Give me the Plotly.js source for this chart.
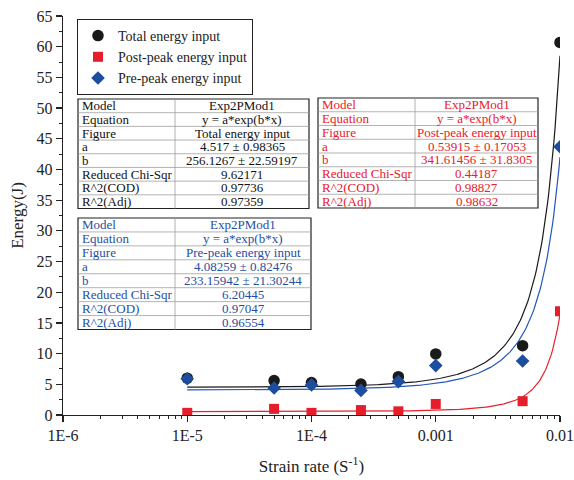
<!DOCTYPE html>
<html>
<head>
<meta charset="utf-8">
<script src="https://cdn.plot.ly/plotly-3.0.1.min.js"></script>
<style>html,body{margin:0;padding:0;background:#fff;}#chart{width:574px;height:480px;}</style>
</head>
<body>
<div id="chart"></div>
<script>
// ---- data ----
var strainRate = [1e-5, 5e-5, 1e-4, 2.5e-4, 5e-4, 1e-3, 5e-3, 1e-2];
var totalEnergy = [6.0, 5.6, 5.3, 5.05, 6.25, 9.95, 11.3, 60.7];
var postPeakEnergy = [0.35, 1.0, 0.35, 0.8, 0.6, 1.8, 2.25, 16.9];
var prePeakEnergy = [5.9, 4.4, 4.9, 4.0, 5.45, 8.05, 8.8, 43.7];

var seriesNames = ["Total energy input", "Post-peak energy input", "Pre-peak energy input"];

// fit parameters (from the tables)
var fitA = [4.517, 0.53915, 4.08259];
var fitB = [256.1267, 341.61456, 233.15942];

var xTickVals = [1e-6, 1e-5, 1e-4, 1e-3, 1e-2];
var xTickText = ["1E-6", "1E-5", "1E-4", "0.001", "0.01"];

var tableLabels = ["Model", "Equation", "Figure", "a", "b", "Reduced Chi-Sqr", "R^2(COD)", "R^2(Adj)"];
var tableTotal = ["Exp2PMod1", "y = a*exp(b*x)", "Total energy input", "4.517 \u00b1 0.98365", "256.1267 \u00b1 22.59197", "9.62171", "0.97736", "0.97359"];
var tablePost = ["Exp2PMod1", "y = a*exp(b*x)", "Post-peak energy input", "0.53915 \u00b1 0.17053", "341.61456 \u00b1 31.8305", "0.44187", "0.98827", "0.98632"];
var tablePre = ["Exp2PMod1", "y = a*exp(b*x)", "Pre-peak energy input", "4.08259 \u00b1 0.82476", "233.15942 \u00b1 21.30244", "6.20445", "0.97047", "0.96554"];

// ---- styling ----
var markerColors = ["#1a1a1a", "#e41e2a", "#1c4d9e"];
var lineColors = ["#1a1a1a", "#e8202a", "#2357b8"];
var FONT = "Liberation Serif, Times New Roman, serif";

// plot area in pixels
var L = 63, R = 560, T = 16, B = 415;
function px(x) { return (x - L) / (R - L); }
function py(y) { return (B - y) / (B - T); }

// fit curves
function fitCurve(a, b) {
  var xs = [], ys = [];
  var n = 300;
  for (var i = 0; i <= n; i++) {
    var lx = -5 + 3 * i / n;
    var x = Math.pow(10, lx);
    xs.push(x); ys.push(a * Math.exp(b * x));
  }
  return {x: xs, y: ys};
}

var traces = [];
var order = [0, 2, 1];
order.forEach(function (k) {
  var c = fitCurve(fitA[k], fitB[k]);
  traces.push({x: c.x, y: c.y, mode: "lines", type: "scatter", showlegend: false, hoverinfo: "skip",
    line: {color: lineColors[k], width: 1.2}});
});
var yData = [totalEnergy, postPeakEnergy, prePeakEnergy];
var symbols = ["circle", "square", "diamond"];
var sizes = [11.5, 10, 10.5];
[0, 1, 2].forEach(function (k) {
  traces.push({x: strainRate, y: yData[k], mode: "markers", type: "scatter", name: seriesNames[k],
    marker: {symbol: symbols[k], size: sizes[k], color: markerColors[k], line: {width: 0}}});
});

// minor ticks on log axis
var minorX = [];
for (var d = -6; d < -2; d++) {
  for (var m = 2; m <= 9; m++) minorX.push(m * Math.pow(10, d));
}

// tables
var shapes = [], annotations = [];
function addTable(x0, xd, x1, y0, y1, values, color) {
  var n = tableLabels.length;
  var h = (y1 - y0) / n;
  shapes.push({type: "rect", xref: "paper", yref: "paper", x0: px(x0), x1: px(x1), y0: py(y1), y1: py(y0),
    fillcolor: "#ffffff", line: {color: "#222", width: 1.2}, layer: "above"});
  for (var i = 1; i < n; i++) {
    var yy = y0 + i * h;
    shapes.push({type: "line", xref: "paper", yref: "paper", x0: px(x0), x1: px(x1), y0: py(yy), y1: py(yy),
      line: {color: "#a0a0a0", width: 0.8}, layer: "above"});
  }
  shapes.push({type: "line", xref: "paper", yref: "paper", x0: px(xd), x1: px(xd), y0: py(y1), y1: py(y0),
    line: {color: "#a0a0a0", width: 0.8}, layer: "above"});
  for (var j = 0; j < n; j++) {
    var yc = y0 + (j + 0.5) * h;
    annotations.push({xref: "paper", yref: "paper", x: px(x0 + 1.5), y: py(yc), xanchor: "left", yanchor: "middle",
      text: tableLabels[j], showarrow: false, font: {family: FONT, size: 13, color: color}});
    annotations.push({xref: "paper", yref: "paper", x: px((xd + x1) / 2), y: py(yc), xanchor: "center", yanchor: "middle",
      text: values[j], showarrow: false, font: {family: FONT, size: 13, color: color}});
  }
}
addTable(78, 175, 309, 99, 208.5, tableTotal, "#111111");
addTable(318, 415, 538, 98, 208, tablePost, "#e8202a");
addTable(78, 175, 311, 218, 329.5, tablePre, "#1f4fa3");

var layout = {
  width: 574, height: 480,
  margin: {l: L, r: 574 - R, t: T, b: 480 - B},
  paper_bgcolor: "#ffffff", plot_bgcolor: "#ffffff",
  font: {family: FONT, size: 16, color: "#222"},
  showlegend: true,
  legend: {x: px(77), y: py(19), xanchor: "left", yanchor: "top", bgcolor: "#ffffff", bordercolor: "#222", borderwidth: 1,
    font: {family: FONT, size: 14, color: "#222"}, tracegroupgap: 0},
  xaxis: {type: "log", range: [-6, -2], tickmode: "array", tickvals: xTickVals, ticktext: xTickText,
    ticks: "outside", ticklen: 6, tickwidth: 1.2, tickcolor: "#222", showline: true, linecolor: "#222", linewidth: 1.2,
    showgrid: false, zeroline: false, tickfont: {family: FONT, size: 16, color: "#222"},
    minor: {tickmode: "array", tickvals: minorX, ticks: "outside", ticklen: 3, tickwidth: 1, tickcolor: "#222", showgrid: false},
    title: {text: "Strain rate (S<sup>-1</sup>)", font: {family: FONT, size: 17, color: "#222"}, standoff: 16}},
  yaxis: {range: [0, 65], dtick: 5, tick0: 0, ticks: "outside", ticklen: 6, tickwidth: 1.2, tickcolor: "#222",
    showline: true, linecolor: "#222", linewidth: 1.2, showgrid: false, zeroline: false,
    tickfont: {family: FONT, size: 16, color: "#222"},
    minor: {dtick: 2.5, ticks: "outside", ticklen: 3, tickwidth: 1, tickcolor: "#222", showgrid: false},
    title: {text: "Energy(J)", font: {family: FONT, size: 17, color: "#222"}, standoff: 8}},
  shapes: shapes,
  annotations: annotations
};

Plotly.newPlot("chart", traces, layout, {displayModeBar: false, staticPlot: true});
</script>
</body>
</html>
